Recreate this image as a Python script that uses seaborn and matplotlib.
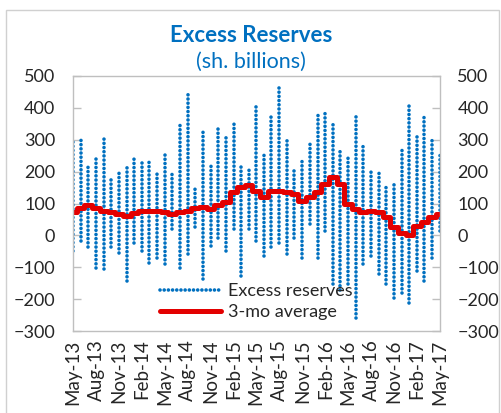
import matplotlib
matplotlib.use("Agg")
import matplotlib.pyplot as plt
import matplotlib.dates as mdates
import matplotlib.patches as patches
from matplotlib.lines import Line2D
import seaborn as sns
import pandas as pd

# monthly columns of the daily excess reserves series (sh. billions)
months = pd.date_range("2013-05-01", "2017-05-01", freq="MS")
monthly_high = [303, 308, 219, 243, 303, 182, 198, 219, 240, 235, 237, 198, 261, 196, 356, 450,
                156, 324, 219, 340, 319, 356, 214, 209, 408, 256, 377, 474, 303, 209, 240,
                293, 377, 387, 356, 267, 251, 377, 282, 209, 203, 151, 161, 272, 414, 314, 377, 298, 256]
monthly_low = [-49, -17, -38, -101, -107, -38, -54, -144, -23, -49, -86, -70, -91, 20, -101, -59,
               25, -138, -33, -7, -49, 20, -128, 20, -17, -65, -38, -23, -59, -7, -70,
               35, -70, 14, -154, -170, -154, -259, -91, -65, -122, -154, -196, -180, -212, -112, -144, -70, 14]
# 3-month moving average
avg_3mo = [72, 85, 95, 85, 78, 72, 68, 62, 70, 75, 77, 75, 72, 68, 72, 77,
           85, 88, 83, 95, 105, 135, 153, 158, 140, 120, 140, 140, 135, 130, 109,
           119, 135, 161, 182, 161, 100, 83, 72, 77, 72, 58, 25, 8, 2, 28, 42, 58, 68]

blue = "#0070C0"
red = "#E30000"
dots = (0, (0.01, 1.15))

cols = pd.DataFrame({
    "date": list(months) * 2,
    "value": monthly_high + monthly_low,
    "month": list(range(len(months))) * 2,
})
avg = pd.DataFrame({"date": months, "value": avg_3mo})

sns.set_style("white")
plt.rcParams["font.family"] = ["Lato", "DejaVu Sans"]

fig = plt.figure(figsize=(5.02, 4.13), dpi=100)
ax = fig.add_axes([0.1448, 0.1985, 0.7317, 0.6175])

# outer chart frame
fig.patches.append(patches.Rectangle((6 / 502, -0.01), 493 / 502, 1 - 10 / 413 + 0.01,
                                     transform=fig.transFigure, fill=False,
                                     edgecolor="#D0D0D0", linewidth=1))

sns.lineplot(data=cols, x="date", y="value", units="month", estimator=None,
             color=blue, linewidth=2.6, linestyle=dots,
             dash_capstyle="round", ax=ax, legend=False)
sns.lineplot(data=avg, x="date", y="value", color=red, linewidth=3.6,
             drawstyle="steps-mid", ax=ax, legend=False)

ax.set_ylim(-300, 500)
ax.set_yticks(range(-300, 501, 100))
ax.set_xlim(pd.Timestamp("2013-04-30"), pd.Timestamp("2017-05-03"))
ax.xaxis.set_major_locator(mdates.MonthLocator(bymonth=[2, 5, 8, 11]))
ax.xaxis.set_major_formatter(mdates.DateFormatter("%b-%y"))
ax.set_xlabel("")
ax.set_ylabel("")

ax.tick_params(axis="y", direction="in", length=6, width=1, color="#BFBFBF",
               left=True, right=True, labelleft=True, labelright=True,
               labelsize=13, pad=12.5)
ax.tick_params(axis="x", length=0, labelsize=13.5, rotation=90, pad=6)
for s in ax.spines.values():
    s.set_color("#BFBFBF")
    s.set_linewidth(1)

fig.text(0.5, 1 - 35 / 413, "Excess Reserves", ha="center", va="center",
         fontsize=16, fontweight="bold", color=blue)
fig.text(0.5, 1 - 62 / 413, "(sh. billions)", ha="center", va="center",
         fontsize=15.5, color=blue)

handles = [
    Line2D([], [], color=blue, linewidth=2.6, linestyle=dots, dash_capstyle="round"),
    Line2D([], [], color=red, linewidth=3.6),
]
ax.legend(handles, ["Excess reserves", "3-mo average"], loc="lower center",
          bbox_to_anchor=(0.5, -0.02), frameon=False, fontsize=13,
          handlelength=3.4, handletextpad=0.4, labelspacing=0.25)

fig.savefig("out.png", dpi=100)
